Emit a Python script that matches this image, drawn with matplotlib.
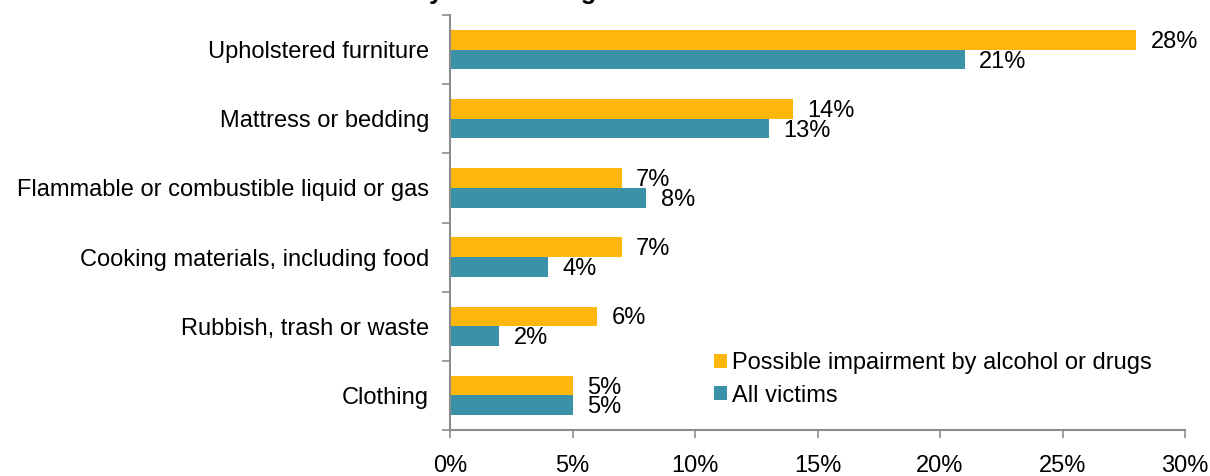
import matplotlib.pyplot as plt
import numpy as np

plt.rcParams['font.family'] = ['Liberation Sans', 'DejaVu Sans']

categories = ["Upholstered furniture", "Mattress or bedding",
              "Flammable or combustible liquid or gas",
              "Cooking materials, including food",
              "Rubbish, trash or waste", "Clothing"]
impaired = [28, 14, 7, 7, 6, 5]
all_victims = [21, 13, 8, 4, 2, 5]
series_names = ["Possible impairment by alcohol or drugs", "All victims"]
xticks = [0, 5, 10, 15, 20, 25, 30]

orange = "#FDB70B"
teal = "#3A91A8"
grey = "#8C8C8C"
fs = 17

fig = plt.figure(figsize=(12.1, 4.76), dpi=100)
ax = fig.add_axes([450 / 1210, 1 - 430 / 476, 735 / 1210, 415 / 476])

y = np.arange(len(categories))
h = 0.285
b1 = ax.barh(y - h / 2, impaired, height=h, color=orange, label=series_names[0])
b2 = ax.barh(y + h / 2, all_victims, height=h, color=teal, label=series_names[1])

for bars, vals in ((b1, impaired), (b2, all_victims)):
    for bar, v in zip(bars, vals):
        ax.annotate(f"{v}%", (v, bar.get_y() + bar.get_height() / 2),
                    xytext=(10.5, -1.5), textcoords="offset points",
                    ha="left", va="center", fontsize=fs)

ax.set_xlim(0, 30)
ax.set_ylim(len(categories) - 0.5, -0.5)
ax.set_xticks(xticks)
ax.set_xticklabels([f"{t}%" for t in xticks])
ax.set_yticks(y)
ax.set_yticklabels(categories)
ax.set_yticks(np.arange(-0.5, len(categories)), minor=True)

ax.tick_params(axis="x", length=6, width=1.2, color=grey, pad=12, labelsize=fs)
ax.tick_params(axis="y", which="major", length=0, pad=15, labelsize=fs)
ax.tick_params(axis="y", which="minor", length=6, width=1.2, color=grey)

for s in ("top", "right"):
    ax.spines[s].set_visible(False)
for s in ("left", "bottom"):
    ax.spines[s].set_color(grey)
    ax.spines[s].set_linewidth(1.5)

ax.legend(loc="upper left", bbox_to_anchor=(714 / 1210, 1 - 352 / 476),
          bbox_transform=fig.transFigure, frameon=False, fontsize=fs,
          handlelength=0.55, handleheight=0.55, handletextpad=0.2,
          labelspacing=0.45, borderaxespad=0, borderpad=0)

# chart title sits right at the top edge
fig.text(187 / 1210, 1 + 1 / 476, "Home Fire Deaths by Item First Ignited",
         ha="left", va="baseline", fontsize=18.5, fontweight="bold")

fig.savefig("out.png", dpi=100)
